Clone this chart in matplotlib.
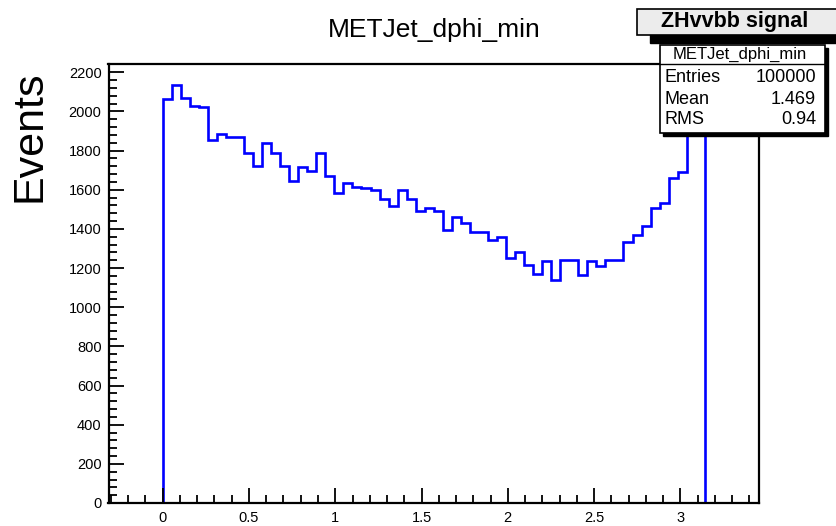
import matplotlib.pyplot as plt
import numpy as np
from matplotlib.patches import Rectangle
from matplotlib.lines import Line2D
from matplotlib.ticker import MultipleLocator

plt.rcParams['font.family'] = ['Liberation Sans', 'DejaVu Sans']

# histogram contents, 60 bins between 0 and pi
counts = [2065, 2135, 2070, 2030, 2020, 1855, 1885, 1870, 1870, 1790,
          1720, 1840, 1790, 1720, 1645, 1715, 1695, 1790, 1670, 1585,
          1635, 1615, 1610, 1600, 1550, 1515, 1600, 1555, 1490, 1505,
          1490, 1395, 1460, 1430, 1385, 1385, 1345, 1360, 1250, 1280,
          1215, 1170, 1235, 1140, 1240, 1240, 1165, 1235, 1210, 1240,
          1240, 1335, 1370, 1415, 1505, 1530, 1660, 1690, 2050, 2100]
x_lo, x_hi = 0.0, np.pi
x_range = (-0.1 * np.pi, 1.1 * np.pi)
y_max = 2242

hist_title = 'METJet_dphi_min'
leg_title = 'ZHvvbb signal'
stat_names = ['Entries', 'Mean', 'RMS']
stat_values = ['100000', '1.469', '0.94']

W, H = 836, 526


def fx(x):
    return x / W


def fy(y):
    return 1 - y / H


def box(fig, x0, y0, x1, y1, **kw):
    r = Rectangle((fx(x0), fy(y1)), fx(x1) - fx(x0), fy(y0) - fy(y1),
                  transform=fig.transFigure, **kw)
    fig.patches.append(r)
    return r


fig = plt.figure(figsize=(W / 100, H / 100), dpi=100)
ax = fig.add_axes([fx(108.5), fy(503), fx(759) - fx(108.5), fy(64) - fy(503)])

edges = np.linspace(x_lo, x_hi, len(counts) + 1)
ax.stairs(counts, edges, baseline=0, color='#0000ff', lw=1.9)

ax.set_xlim(*x_range)
ax.set_ylim(0, y_max)

ax.xaxis.set_major_locator(MultipleLocator(0.5))
ax.xaxis.set_minor_locator(MultipleLocator(0.1))
ax.yaxis.set_major_locator(MultipleLocator(200))
ax.yaxis.set_minor_locator(MultipleLocator(40))
ax.xaxis.set_major_formatter(lambda v, p: f'{v:g}')
ax.tick_params(which='both', direction='in', width=1.3, colors='black', labelsize=10.5)
ax.tick_params(which='major', length=11)
ax.tick_params(which='minor', length=6)
ax.tick_params(axis='x', pad=6)
ax.tick_params(axis='y', pad=5)
for s in ax.spines.values():
    s.set_linewidth(1.6)

fig.text(fx(434), fy(30), hist_title, ha='center', va='center', fontsize=19)
fig.text(fx(29), fy(136.5), 'Events', ha='center', va='center',
         rotation=90, fontsize=31)

# legend title pave with shadow
box(fig, 650, 17, 850, 43, facecolor='black', edgecolor='black', zorder=5)
box(fig, 637, 9, 845, 35, facecolor='#ececec', edgecolor='black', lw=1.2, zorder=6)
fig.text(fx(661), fy(22), leg_title, ha='left', va='center',
         fontsize=15.5, fontweight='bold', zorder=7)

# stats box
box(fig, 663, 48, 828, 136, facecolor='black', edgecolor='black', zorder=5)
box(fig, 660, 45, 825, 133, facecolor='white', edgecolor='black', lw=1.2, zorder=6)
fig.lines.append(Line2D([fx(660), fx(825)], [fy(63.5), fy(63.5)],
                        transform=fig.transFigure, color='black', lw=1.0, zorder=7))
fig.text(fx(740), fy(54.5), hist_title, ha='center', va='center', fontsize=12, zorder=7)
for i, (name, val) in enumerate(zip(stat_names, stat_values)):
    y = 78 + i * 21
    fig.text(fx(665), fy(y), name, ha='left', va='center', fontsize=13, zorder=7)
    fig.text(fx(816), fy(y), val, ha='right', va='center', fontsize=13, zorder=7)

fig.savefig('out.png', dpi=100)
